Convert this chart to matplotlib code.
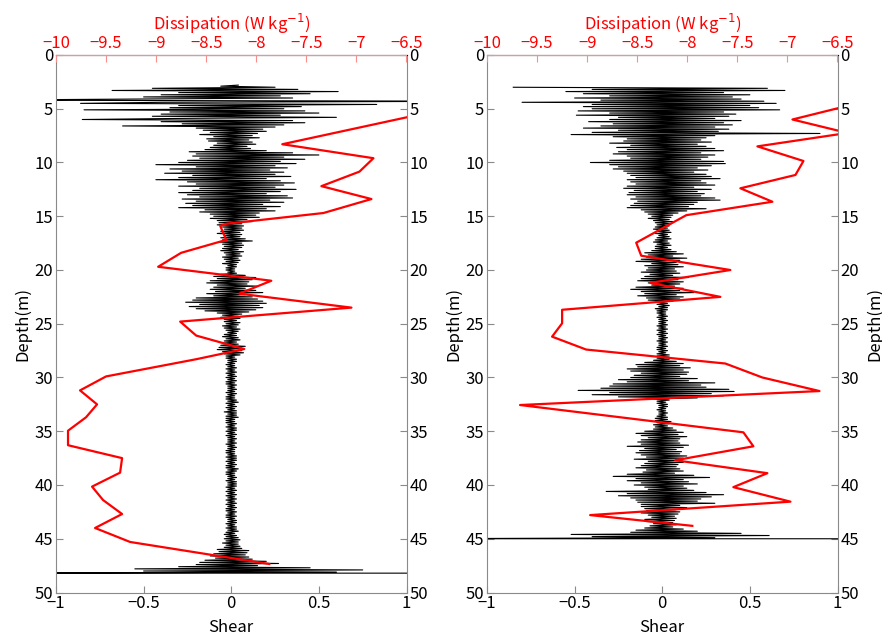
import numpy as np
import matplotlib
matplotlib.use("Agg")
import matplotlib.pyplot as plt

plt.rcParams['font.family'] = ['Noto Sans CJK JP', 'DejaVu Sans']
plt.rcParams['axes.unicode_minus'] = True

# ---------------- data ----------------
depth_ticks = [0, 5, 10, 15, 20, 25, 30, 35, 40, 45, 50]
shear_ticks = [-1, -0.5, 0, 0.5, 1]
shear_ticklabels = ['−1', '−0.5', '0', '0.5', '1']
diss_ticks = [-10, -9.5, -9, -8.5, -8, -7.5, -7, -6.5]
diss_ticklabels = ['−10', '−9.5', '−9', '−8.5', '−8', '−7.5', '−7', '−6.5']

# shear profile (hundredths), sampled every 0.1 m
left_start = 2.8
left_step = 0.1
shear_left = [
    4, -6,
    25, -45, 38, -68, 61, -30, 45, -40, 28, -50,
    35, -55, -150, 150, -40, -86, 83, -30, 40, -35,
    30, -84, 42, -35, 50, -40, 28, -45, 60, -30,
    -85, 35, -40, 42, -28, 30, -62, 25, -20, 18,
    -16, 20, -12, 15, -18, 12, -10, 16, -14, 10,
    -13, 12, -8, 14, -10, 9, -12, 11, -15, 20,
    -24, 35, -20, 50, -22, 30, -18, 42, -25, 28,
    -30, 37, -43, 25, -20, 32, -35, 22, -28, 30,
    -38, 25, -22, 34, -30, 20, -43, 28, -25, 36,
    -20, 30, -30, 25, -18, 37, -22, 28, -30, 20,
    -25, 32, -18, 35, -28, 22, -20, 30, -26, 18,
    -22, 28, -30, 20, -15, 25, -18, 16, -12, 14,
    -10, 16, -12, 9, -8, 12, -7, 6, -8, 7,
    -5, 6, -4, 7, -6, 5, -8, 6, -4, 5,
    -6, 8, -5, 12, -7, 6, -5, 7, -4, 6,
    -5, 4, -6, 7, -4, 5, -3, 6, -5, 4,
    -4, 5, -3, 4, -5, 3, -2, 3, -3, 2,
    -3, 2, -2, 3, -6, 8, -10, 14, -8, 12,
    -12, 10, -14, 9, -8, 15, -10, 8, -12, 14,
    -9, 18, -14, 8, -10, 12, -20, 15, -22, 18,
    -26, 20, -18, 16, -24, 18, -20, 14, -15, 10,
    -8, 6, -5, 4, -6, 5, -4, 3, -4, 5,
    -3, 4, -5, 3, -4, 5, -3, 4, -2, 3,
    -4, 3, -5, 4, -3, 5, -4, 3, -5, 4,
    -6, 8, -7, 5, -8, 6, -5, 7, -4, 5,
    -3, 2, -3, 3, -2, 3, -2, 2, -3, 2,
    -2, 3, -3, 2, -2, 3, -3, 2, -2, 3,
    -3, 2, -2, 3, -3, 2, -3, 3, -2, 2,
    -2, 3, -2, 2, -3, 3, -2, 2, -3, 2,
    -3, 3, -2, 4, -3, 2, -2, 3, -3, 2,
    -2, 3, -4, 3, -2, 3, -3, 4, -3, 2,
    -3, 2, -3, 3, -2, 2, -3, 3, -2, 3,
    -3, 2, -2, 3, -3, 2, -2, 3, -2, 2,
    -2, 3, -3, 2, -2, 3, -2, 2, -3, 2,
    -3, 2, -2, 3, -3, 3, -2, 3, -3, 2,
    -2, 3, -3, 2, -3, 4, -2, 3, -3, 2,
    -3, 2, -2, 3, -2, 2, -3, 3, -2, 3,
    -2, 3, -3, 2, -2, 3, -3, 2, -2, 3,
    -3, 2, -2, 3, -3, 2, -2, 3, -3, 2,
    -2, 3, -3, 2, -3, 3, -2, 2, -3, 3,
    -3, 2, -2, 3, -2, 3, -3, 2, -2, 3,
    -3, 3, -2, 4, -3, 2, -4, 3, -3, 4,
    -4, 5, -3, 4, -5, 4, -3, 5, -4, 6,
    -8, 10, -7, 9, -10, 8, -12, 10, -9, 12,
    -15, 20, -18, 27, -20, 15, -30, 45, -55, 75,
    -50, 60, -150,
]
left_bottom_depth = 48.2
left_bottom_shear = [150]

right_start = 3.0
right_step = 0.1
shear_right = [
    -85, 60, -40, 70, -55, 35, -45, 50, -30, 40,
    -50, 45, -35, 58, -80, 65, -40, 50, -45, 55,
    -40, 67, -48, 35, -30, 42, -49, 38, -25, 30,
    -30, 45, -42, 35, -28, 40, -35, 30, -45, 38,
    -25, 32, -40, 90, -52, 30, -28, 25, -20, 22,
    -22, 28, -30, 20, -18, 25, -26, 30, -20, 35,
    -25, 22, -28, 30, -20, 26, -18, 22, -30, 35,
    -41, 36, -30, 28, -25, 20, -28, 26, -22, 18,
    -20, 25, -18, 28, -15, 33, -20, 22, -18, 25,
    -15, 30, -20, 18, -22, 28, -16, 20, -19, 24,
    -20, 22, -15, 30, -18, 33, -14, 20, -16, 18,
    -18, 15, -20, 25, -12, 14, -10, 9, -8, 6,
    -6, 5, -8, 4, -5, 6, -4, 5, -3, 4,
    -4, 3, -5, 4, -3, 5, -4, 3, -2, 4,
    -3, 5, -4, 3, -5, 4, -3, 5, -4, 3,
    -4, 5, -6, 8, -10, 12, -8, 6, -9, 14,
    -12, 10, -15, 8, -6, 9, -10, 12, -8, 7,
    -9, 8, -12, 10, -7, 6, -10, 15, -12, 9,
    -14, 12, -8, 10, -6, 7, -15, 12, -18, 10,
    -12, 18, -10, 8, -14, 12, -9, 10, -8, 6,
    -4, 3, -3, 4, -2, 3, -4, 3, -3, 2,
    -3, 2, -2, 3, -3, 2, -2, 3, -2, 2,
    -2, 3, -3, 2, -2, 3, -3, 2, -2, 3,
    -3, 2, -2, 3, -2, 2, -3, 3, -2, 2,
    -2, 3, -3, 2, -3, 3, -2, 2, -3, 4,
    -3, 4, -3, 4, -5, 8, -10, 12, -15, 10,
    -14, 16, -20, 12, -18, 15, -12, 14, -16, 10,
    -18, 20, -25, 15, -20, 30, -28, 22, -30, 25,
    -35, 38, -48, 41, -30, 28, -40, 35, -25, 20,
    -6, 4, -3, 2, -3, 3, -2, 3, -2, 2,
    -3, 2, -2, 3, -2, 2, -3, 3, -4, 3,
    -4, 5, -3, 4, -5, 3, -4, 6, -5, 8,
    -10, 12, -15, 9, -12, 14, -8, 10, -12, 9,
    -14, 10, -12, 15, -20, 12, -10, 8, -13, 11,
    -15, 10, -12, 14, -9, 12, -16, 10, -8, 12,
    -10, 9, -12, 8, -15, 10, -9, 12, -11, 7,
    -20, 18, -28, 27, -15, 12, -20, 15, -12, 20,
    -16, 12, -10, 14, -8, 18, -32, 25, -20, 35,
    -25, 28, -18, 22, -15, 20, -14, 30, -12, 10,
    -12, 14, -10, 8, -9, 10, -12, 9, -8, 7,
    -6, 8, -10, 7, -9, 6, -5, 8, -7, 6,
    -10, 12, -15, 20, -18, 45, -52, 61, -40, 30,
    -150,
]
right_bottom_depth = 45.0
right_bottom_shear = [150]

# dissipation (log10 W/kg) profiles
diss_depth_left = [5.8, 8.3, 9.6, 10.85, 12.2, 13.4, 14.7, 15.7, 15.9, 17.2, 18.4,
                   19.7, 21.0, 22.2, 23.5, 24.8, 26.1, 27.35, 28.3, 29.9, 31.2,
                   32.5, 33.7, 34.95, 36.3, 37.5, 38.85, 40.15, 41.4, 42.7, 44.0,
                   45.3, 47.35]
diss_left = [-6.5, -7.74, -6.83, -6.97, -7.35, -6.85, -7.33, -8.30, -8.36, -8.30, -8.75,
             -8.98, -7.85, -8.17, -7.05, -8.76, -8.60, -8.12, -8.60, -9.50, -9.76,
             -9.59, -9.70, -9.88, -9.88, -9.34, -9.36, -9.64, -9.53, -9.34, -9.61,
             -9.26, -7.87]

diss_depth_right = [4.96, 6.0, 7.25, 8.5, 9.86, 11.16, 12.4, 13.65, 14.9, 17.46, 18.67,
                    20.0, 21.2, 22.5, 23.7, 24.96, 26.2, 27.4, 28.7, 30.0, 31.26,
                    32.56, 35.1, 36.4, 37.7, 38.9, 40.2, 41.55, 42.8, 43.8]
diss_right = [-6.5, -6.95, -6.4, -7.30, -6.84, -6.92, -7.47, -7.15, -8.01, -8.51, -8.46,
              -7.57, -8.37, -7.67, -9.25, -9.25, -9.35, -9.01, -7.62, -7.25, -6.68,
              -9.67, -7.44, -7.34, -8.12, -7.20, -7.54, -6.97, -8.97, -7.95]

# ---------------- plot ----------------
W, H = 882, 639
fig = plt.figure(figsize=(W / 100, H / 100), dpi=100)

GRAY = '#8a8a8a'
RED = 'red'
PINK = '#ff8c8c'
FS = 12

AX_TOP, AX_BOT = 55.0, 592.5


def make_panel(x0, shear, start, step, bottom_depth, bottom_shear,
               ddepth, diss, right_label):
    ax = fig.add_axes([x0 / W, 1 - AX_BOT / H, 350.5 / W, (AX_BOT - AX_TOP) / H])
    n = len(shear)
    depth = list(np.round(start + step * np.arange(n), 3)) + [bottom_depth] * len(bottom_shear)
    sh = (np.array(list(shear) + list(bottom_shear)) / 100.0)
    ax.plot(sh, depth, color='black', lw=0.8)
    ax.set_xlim(-1, 1)
    ax.set_ylim(50, 0)
    ax.set_xticks(shear_ticks)
    ax.set_xticklabels(shear_ticklabels)
    ax.set_yticks(depth_ticks)
    ax.tick_params(axis='both', direction='in', length=5, color=GRAY,
                   labelsize=FS, pad=2)
    ax.tick_params(axis='y', right=True, labelright=True)
    ax.set_xlabel('Shear', fontsize=FS, labelpad=5)
    ax.set_ylabel('Depth(m)', fontsize=FS, labelpad=2)
    for s in ['left', 'right', 'bottom']:
        ax.spines[s].set_color(GRAY)
    if right_label:
        fig.text(875 / W, 1 - (AX_TOP + AX_BOT) / 2 / H, 'Depth(m)', rotation=90,
                 ha='center', va='center', fontsize=FS)
    ax2 = ax.twiny()
    ax2.plot(diss, ddepth, color=RED, lw=1.6)
    ax2.set_xlim(-10, -6.5)
    ax2.set_ylim(50, 0)
    ax2.set_xticks(diss_ticks)
    ax2.set_xticklabels(diss_ticklabels)
    ax2.tick_params(axis='x', direction='in', length=5, color=PINK,
                    labelsize=FS, labelcolor=RED, pad=2)
    ax2.spines['top'].set_color(PINK)
    for s in ['left', 'right', 'bottom']:
        ax2.spines[s].set_visible(False)
    ax2.set_xlabel('Dissipation (W kg$^{-1}$)', color=RED, fontsize=FS, labelpad=4)
    return ax


make_panel(56, shear_left, left_start, left_step, left_bottom_depth, left_bottom_shear,
           diss_depth_left, diss_left, False)
make_panel(487, shear_right, right_start, right_step, right_bottom_depth, right_bottom_shear,
           diss_depth_right, diss_right, True)

fig.savefig('out.png', dpi=100)
